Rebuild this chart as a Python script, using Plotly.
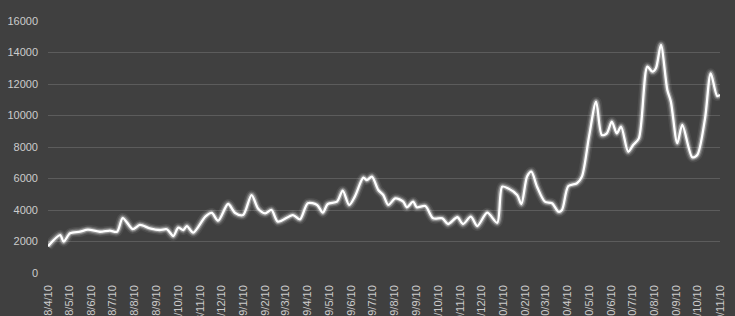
import plotly.graph_objects as go

dates = [
    "2008-04-10", "2008-04-27", "2008-05-02", "2008-05-11", "2008-05-25", "2008-06-05",
    "2008-06-22", "2008-07-06", "2008-07-16", "2008-07-24", "2008-08-07", "2008-08-17",
    "2008-08-31", "2008-09-14", "2008-09-24", "2008-10-03", "2008-10-10", "2008-10-17",
    "2008-10-22", "2008-10-31", "2008-11-17", "2008-11-26", "2008-12-05", "2008-12-19",
    "2008-12-29", "2009-01-09", "2009-01-21", "2009-01-30", "2009-02-09", "2009-02-18",
    "2009-02-27", "2009-03-20", "2009-03-30", "2009-04-10", "2009-04-23", "2009-05-01",
    "2009-05-08", "2009-05-21", "2009-05-29", "2009-06-07", "2009-06-15", "2009-06-27",
    "2009-07-02", "2009-07-09", "2009-07-18", "2009-07-25", "2009-08-01", "2009-08-11",
    "2009-08-22", "2009-08-27", "2009-09-05", "2009-09-10", "2009-09-22", "2009-10-03",
    "2009-10-16", "2009-10-24", "2009-11-06", "2009-11-14", "2009-11-25", "2009-12-04",
    "2009-12-18", "2010-01-01", "2010-01-08", "2010-01-16", "2010-01-29", "2010-02-04",
    "2010-02-12", "2010-02-18", "2010-02-26", "2010-03-09", "2010-03-19", "2010-03-28",
    "2010-04-02", "2010-04-11", "2010-04-23", "2010-04-30", "2010-05-10", "2010-05-20",
    "2010-05-28", "2010-06-04", "2010-06-11", "2010-06-18", "2010-06-24", "2010-07-04",
    "2010-07-11", "2010-07-19", "2010-07-31", "2010-08-07", "2010-08-12", "2010-08-19",
    "2010-08-28", "2010-09-02", "2010-09-11", "2010-09-18", "2010-10-02", "2010-10-09",
    "2010-10-20", "2010-10-28", "2010-11-06", "2010-11-10",
]

values = [
    1700, 2410, 1990, 2520, 2620, 2750,
    2620, 2690, 2620, 3490, 2790, 3050,
    2840, 2730, 2780, 2350, 2880, 2730,
    2980, 2560, 3580, 3810, 3320, 4380,
    3810, 3680, 4950, 4100, 3790, 4000,
    3260, 3680, 3410, 4430, 4320, 3830,
    4380, 4530, 5230, 4320, 4850, 6050,
    5900, 6120, 5270, 4950, 4320, 4740,
    4530, 4170, 4530, 4170, 4250, 3470,
    3470, 3110, 3540, 3110, 3580, 2980,
    3830, 3190, 5480, 5380, 4950, 4380,
    6120, 6430, 5480, 4530, 4430, 3890,
    4000, 5520, 5700, 6120, 8660, 10880,
    8760, 8870, 9610, 8870, 9290, 7700,
    8130, 8550, 13100, 12780, 13000, 14480,
    11620, 10880, 8240, 9400, 7350, 7490,
    9820, 12680, 11240, 11300,
]

tick_dates = [
    "2008-04-10", "2008-05-10", "2008-06-10", "2008-07-10", "2008-08-10", "2008-09-10",
    "2008-10-10", "2008-11-10", "2008-12-10", "2009-01-10", "2009-02-10", "2009-03-10",
    "2009-04-10", "2009-05-10", "2009-06-10", "2009-07-10", "2009-08-10", "2009-09-10",
    "2009-10-10", "2009-11-10", "2009-12-10", "2010-01-10", "2010-02-10", "2010-03-10",
    "2010-04-10", "2010-05-10", "2010-06-10", "2010-07-10", "2010-08-10", "2010-09-10",
    "2010-10-10", "2010-11-10",
]
tick_labels = [
    "2008/4/10", "2008/5/10", "2008/6/10", "2008/7/10", "2008/8/10", "2008/9/10",
    "2008/10/10", "2008/11/10", "2008/12/10", "2009/1/10", "2009/2/10", "2009/3/10",
    "2009/4/10", "2009/5/10", "2009/6/10", "2009/7/10", "2009/8/10", "2009/9/10",
    "2009/10/10", "2009/11/10", "2009/12/10", "2010/1/10", "2010/2/10", "2010/3/10",
    "2010/4/10", "2010/5/10", "2010/6/10", "2010/7/10", "2010/8/10", "2010/9/10",
    "2010/10/10", "2010/11/10",
]

y_ticks = [0, 2000, 4000, 6000, 8000, 10000, 12000, 14000, 16000]
y_labels = ["0", "2000", "4000", "6000", "8000", "10000", "12000", "14000", "16000"]

fig = go.Figure()
# glow layers
for w, a in [(10, 0.07), (7, 0.15), (4.8, 0.3)]:
    fig.add_trace(go.Scatter(
        x=dates, y=values, mode="lines",
        line=dict(color=f"rgba(255,255,255,{a})", width=w, shape="spline", smoothing=0.8),
        hoverinfo="skip", showlegend=False,
    ))
fig.add_trace(go.Scatter(
    x=dates, y=values, mode="lines",
    line=dict(color="#ffffff", width=2.3, shape="spline", smoothing=0.8),
    showlegend=False,
))

font_family = "Liberation Sans, Arial, sans-serif"
fig.update_layout(
    width=735, height=316,
    margin=dict(l=48, r=15, t=21, b=43),
    paper_bgcolor="#404040",
    plot_bgcolor="#404040",
    font=dict(family=font_family, size=11, color="#cccccc"),
    xaxis=dict(
        type="date",
        range=["2008-04-10", "2010-11-10"],
        tickmode="array",
        tickvals=tick_dates,
        ticktext=tick_labels,
        tickangle=-90,
        showgrid=False,
        zeroline=False,
        showline=False,
        ticks="",
        automargin=False,
        tickfont=dict(size=11, color="#cccccc"),
        ticklabelstandoff=9,
    ),
    yaxis=dict(
        range=[0, 16000],
        tickmode="array",
        tickvals=y_ticks,
        ticktext=y_labels,
        showgrid=True,
        gridcolor="#5c5c5c",
        gridwidth=1,
        zeroline=False,
        showline=False,
        ticks="",
        automargin=False,
        tickfont=dict(size=11, color="#cccccc"),
        ticklabelstandoff=9,
    ),
)

fig.write_html("out.html")
